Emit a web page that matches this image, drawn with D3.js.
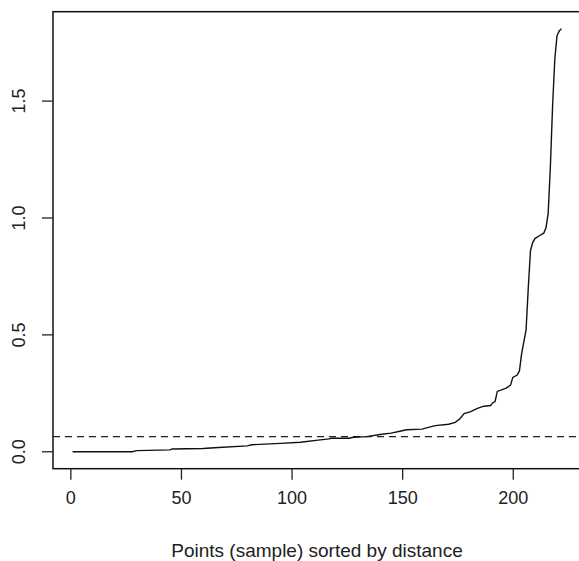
<!DOCTYPE html>
<html>
<head>
<meta charset="utf-8">
<script src="https://cdn.jsdelivr.net/npm/d3@7"></script>
<style>
  body { margin: 0; background: #fff; }
  svg text { font-family: "Liberation Sans", Arial, sans-serif; fill: #222; }
</style>
</head>
<body>
<svg width="579" height="561"></svg>
<script>
// sorted kNN distances as [rank, distance]
const ranks = [1, 28, 30, 45, 46, 60, 67, 80, 82, 95, 104, 112, 117, 118, 126, 128, 134, 140, 145, 150,
  152, 159, 161, 165, 171, 174, 176, 178, 181, 184, 187, 190, 191, 192, 193, 197, 199, 200, 202, 203,
  204, 205, 206, 207, 208, 209, 210, 212, 214, 215, 216, 217, 218, 219, 220, 221, 222];
const distances = [0.000, 0.000, 0.005, 0.008, 0.012, 0.014, 0.018, 0.025, 0.030, 0.036, 0.041, 0.050, 0.055, 0.058, 0.058, 0.062, 0.065, 0.074, 0.080, 0.090,
  0.094, 0.097, 0.102, 0.112, 0.118, 0.126, 0.140, 0.163, 0.172, 0.186, 0.195, 0.198, 0.210, 0.215, 0.258, 0.272, 0.285, 0.318, 0.328, 0.345,
  0.420, 0.470, 0.520, 0.700, 0.860, 0.895, 0.912, 0.924, 0.935, 0.958, 1.020, 1.220, 1.480, 1.680, 1.780, 1.800, 1.810];
const epsLine = 0.065;
const xTicks = [0, 50, 100, 150, 200];
const yTicks = [0, 0.5, 1.0, 1.5];
const xLabel = 'Points (sample) sorted by distance';

const svg = d3.select('svg');

// R style 4% padding round the data range
const n = ranks[ranks.length - 1];
const xPad = 0.04 * (n - 1);
const yMax = d3.max(distances);
const yPad = 0.04 * yMax;

const x = d3.scaleLinear().domain([1 - xPad, n + xPad]).range([53, 581]);
const y = d3.scaleLinear().domain([-yPad, yMax + yPad]).range([468.7, 11.7]);

const points = ranks.map((r, i) => [r, distances[i]]);

// dashed eps line
svg.append('line')
    .attr('x1', x.range()[0]).attr('x2', x.range()[1])
    .attr('y1', y(epsLine)).attr('y2', y(epsLine))
    .attr('stroke', '#222')
    .attr('stroke-width', 1.2)
    .attr('stroke-dasharray', '7,5');

const line = d3.line()
    .x(d => x(d[0]))
    .y(d => y(d[1]));

svg.append('path')
    .attr('d', line(points))
    .attr('fill', 'none')
    .attr('stroke', '#111')
    .attr('stroke-width', 1.4);

// box
svg.append('rect')
    .attr('x', x.range()[0]).attr('y', y.range()[1])
    .attr('width', x.range()[1] - x.range()[0])
    .attr('height', y.range()[0] - y.range()[1])
    .attr('fill', 'none')
    .attr('stroke', '#111')
    .attr('stroke-width', 1.5);

// axes
const xAxis = d3.axisBottom(x).tickValues(xTicks).tickSize(11).tickPadding(12).tickFormat(d3.format('d'));
const gx = svg.append('g').attr('transform', `translate(0, ${y.range()[0]})`).call(xAxis);
gx.select('.domain').remove();
gx.selectAll('line').attr('stroke', '#222').attr('stroke-width', 1.3);
gx.selectAll('text').attr('font-size', 18).style('fill', '#222');

const yAxis = d3.axisLeft(y).tickValues(yTicks).tickSize(11).tickFormat(d3.format('.1f'));
const gy = svg.append('g').attr('transform', `translate(${x.range()[0]}, 0)`).call(yAxis);
gy.select('.domain').remove();
gy.selectAll('line').attr('stroke', '#222').attr('stroke-width', 1.3);
gy.selectAll('text')
    .attr('font-size', 18)
    .attr('x', 0).attr('dy', null)
    .attr('text-anchor', 'middle')
    .attr('transform', d => `translate(-34, ${y(d)}) rotate(-90)`)
    .attr('y', 0)
    .attr('dominant-baseline', 'central')
    .style('fill', '#222');
// rotated labels are positioned by transform, not by the tick group
gy.selectAll('.tick').attr('transform', null);
gy.selectAll('.tick line').attr('transform', d => `translate(0, ${y(d)})`);

svg.append('text')
    .attr('x', (x.range()[0] + x.range()[1]) / 2)
    .attr('y', 557)
    .attr('text-anchor', 'middle')
    .attr('font-size', 19)
    .text(xLabel);
</script>
</body>
</html>
